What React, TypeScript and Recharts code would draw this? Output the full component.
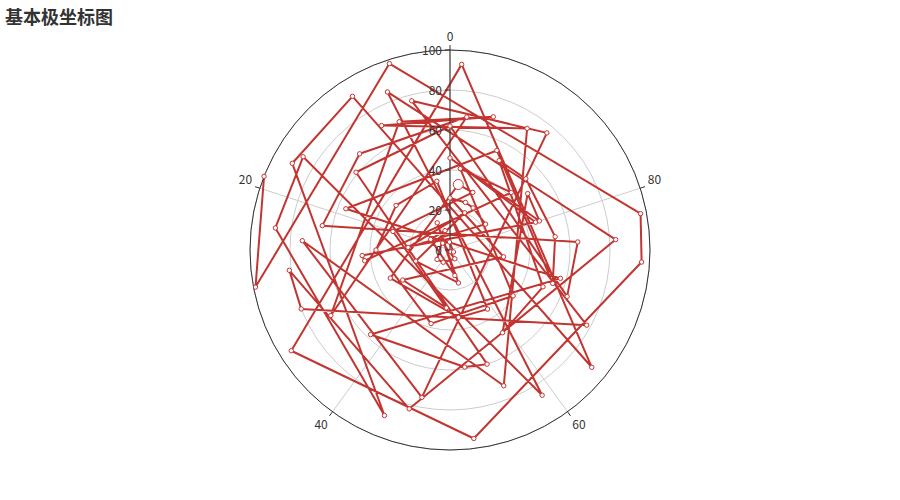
import React from "react";
import {
  RadarChart,
  Radar,
  PolarGrid,
  PolarAngleAxis,
  PolarRadiusAxis,
} from "recharts";

// radius of each point, in drawing order (the line walks outward)
const radii = [
  1, 2, 4, 5, 5, 7, 8, 10, 11, 13, 15, 17, 18, 20, 21, 22, 24, 25, 26, 27, 28,
  29, 30, 31, 33, 33, 34, 35, 35, 35, 37, 38, 39, 41, 42, 43, 44, 45, 46, 47,
  48, 49, 50, 51, 52, 53, 54, 55, 56, 57, 58, 59, 60, 61, 62, 63, 64, 65, 66,
  67, 68, 69, 70, 71, 72, 73, 74, 75, 76, 77, 78, 80, 81, 82, 83, 85, 86, 87,
  88, 89, 90, 91, 92, 93, 94, 95, 96, 97, 98, 99, 100,
];

// angle of each point (0-100 around the circle)
const angles = [
  58, 67, 1, 13, 58, 42, 35, 4, 17, 53, 7, 54, 30, 94, 24, 85, 92, 95, 100, 73,
  34, 49, 20, 94, 98, 32, 52, 59, 3, 14, 25, 46, 65, 98, 87, 27, 26, 80, 100,
  80, 85, 59, 69, 92, 87, 77, 70, 93, 19, 71, 38, 52, 55, 14, 100, 69, 76, 22,
  12, 98, 33, 6, 95, 8, 91, 56, 24, 47, 89, 4, 67, 31, 27, 46, 76, 6, 59, 16,
  23, 44, 17, 9, 64, 99, 34, 52, 74, 78, 5, 28, 19,
];

const angleTicks = [0, 20, 40, 60, 80, 100];
const radiusTicks = [0, 20, 40, 60, 80, 100];
const title = "基本极坐标图";

const RED = "#c23531";
const FONT = '"Noto Sans CJK SC", "Noto Sans", sans-serif';

const data = radii.map((r, i) => ({ r, angle: angles[i] }));

const LineShape = (props: any) => {
  const pts = (props.points || [])
    .map((p: any) => `${p.x},${p.y}`)
    .join(" ");
  return (
    <polyline
      points={pts}
      fill="none"
      stroke={RED}
      strokeWidth={2}
      strokeLinejoin="bevel"
    />
  );
};

const Dot = (props: any) => {
  const { cx, cy, index } = props;
  // the hovered-looking big marker
  const big = index === 24;
  return (
    <circle
      key={`d-${index}`}
      cx={cx}
      cy={cy}
      r={big ? 5 : 2.2}
      fill="#fff"
      stroke={RED}
      strokeWidth={1}
    />
  );
};

const AngleTick = (props: any) => {
  const { x, y, cx, cy, payload } = props;
  if (payload.value === 100) return <g />;
  const dx = x - cx;
  const dy = y - cy;
  const len = Math.sqrt(dx * dx + dy * dy) || 1;
  const ux = dx / len;
  const uy = dy / len;
  // anchor point a little outside the tick
  const px = x + ux * 3;
  const py = y + uy * 3;
  const anchor = ux > 0.1 ? "start" : ux < -0.1 ? "end" : "middle";
  const ty = uy < -0.1 ? py - 7 : uy > 0.1 ? py + 5 : py;
  return (
    <text
      x={px}
      y={ty}
      textAnchor={anchor}
      dominantBaseline="central"
      fontSize={12}
      fill="#333"
      fontFamily={FONT}
    >
      {payload.value}
    </text>
  );
};

const RadiusTick = (props: any) => {
  const { x, y, payload } = props;
  return (
    <g>
      <line x1={x - 5} y1={y} x2={x} y2={y} stroke="#333" />
      <text
        x={x - 8}
        y={y - 1}
        textAnchor="end"
        dominantBaseline="central"
        fontSize={12}
        fill="#333"
        fontFamily={FONT}
      >
        {payload.value}
      </text>
    </g>
  );
};

export default function App() {
  return (
    <div
      style={{
        position: "absolute",
        left: 0,
        top: 0,
        width: 900,
        height: 500,
        background: "#fff",
      }}
    >
      <div
        style={{
          position: "absolute",
          left: 5,
          top: 3,
          fontSize: 18,
          fontWeight: "bold",
          color: "#333",
          fontFamily: FONT,
          zIndex: 1,
        }}
      >
        {title}
      </div>
      <RadarChart
        width={900}
        height={500}
        data={data}
        cx={450}
        cy={250}
        outerRadius={200}
        startAngle={90}
        endAngle={450}
        margin={{ top: 0, right: 0, bottom: 0, left: 0 }}
      >
        <PolarGrid gridType="circle" stroke="#ccc" />
        <PolarAngleAxis
          dataKey="angle"
          type="number"
          domain={[0, 100]}
          ticks={angleTicks as any}
          tickCount={6}
          axisLine={{ stroke: "#333" }}
          axisLineType="circle"
          tickLine={{ stroke: "#333" }}
          tickSize={5}
          tick={AngleTick}
        />
        <PolarRadiusAxis
          angle={90}
          type="number"
          domain={[0, 100]}
          ticks={radiusTicks as any}
          tickCount={6}
          axisLine={{ stroke: "#333" }}
          tick={RadiusTick}
        />
        <Radar
          dataKey="r"
          isAnimationActive={false}
          shape={LineShape}
          dot={Dot}
        />
      </RadarChart>
    </div>
  );
}
